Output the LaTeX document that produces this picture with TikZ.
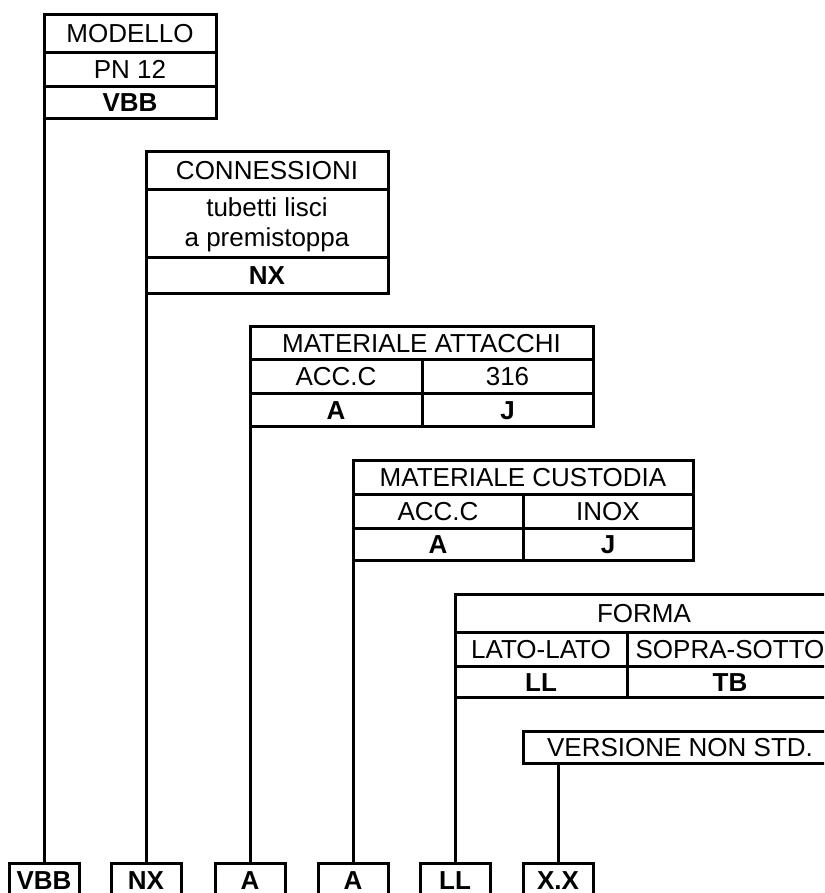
\documentclass[tikz,border=0pt]{standalone}
\usepackage{fontspec}
\setmainfont{Liberation Sans}
\begin{document}
\begin{tikzpicture}[x=1pt,y=-1pt,
  frame/.style={line width=3pt},
  wire/.style={line width=3pt},
  txt/.style={anchor=base, inner sep=0pt, font=\fontsize{26}{30}\selectfont},
  btxt/.style={anchor=base, inner sep=0pt, font=\fontsize{26}{30}\selectfont\bfseries},
  botbox/.style={draw, line width=3pt, anchor=north, minimum width=70pt,
    inner xsep=0pt, inner ysep=7pt, text height=18.6pt, text depth=12pt,
    font=\fontsize{26}{30}\selectfont\bfseries}]
\useasboundingbox (0,0) rectangle (824,893);
\clip (0,0) rectangle (824,893);

% MODELLO
\draw[frame] (44,15) rectangle (216,119);
\draw[frame] (44,53) -- (216,53) (44,87) -- (216,87);
\node[txt] (t1a) at (130,43) {MODELLO};
\node[txt] (t1b) at (130,79) {PN 12};
\node[btxt] (t1c) at (130,112) {VBB};
\coordinate (t1o) at (44,119);

% CONNESSIONI
\draw[frame] (146,152) rectangle (388,293);
\draw[frame] (146,190) -- (388,190) (146,257) -- (388,257);
\node[txt] (t2a) at (267,180) {CONNESSIONI};
\node[txt] (t2b) at (267,217) {tubetti lisci};
\node[txt] (t2c) at (267,247) {a premistoppa};
\node[btxt] (t2d) at (267,284) {NX};
\coordinate (t2o) at (146,293);

% MATERIALE ATTACCHI
\draw[frame] (250,326) rectangle (593,426);
\draw[frame] (250,359) -- (593,359) (250,393) -- (593,393) (422,359) -- (422,426);
\node[txt] (t3a) at (421.5,352) {MATERIALE ATTACCHI};
\node[txt] (t3b) at (336,385) {ACC.C};
\node[txt] (t3c) at (507.5,385) {316};
\node[btxt] (t3d) at (336,419) {A};
\node[btxt] (t3e) at (507.5,419) {J};
\coordinate (t3o) at (250,426);

% MATERIALE CUSTODIA
\draw[frame] (353,460) rectangle (693,560);
\draw[frame] (353,494) -- (693,494) (353,528) -- (693,528) (523,494) -- (523,560);
\node[txt] (t4a) at (523,486) {MATERIALE CUSTODIA};
\node[txt] (t4b) at (438,520) {ACC.C};
\node[txt] (t4c) at (608,520) {INOX};
\node[btxt] (t4d) at (438,553) {A};
\node[btxt] (t4e) at (608,553) {J};
\coordinate (t4o) at (353,560);

% FORMA
\draw[frame] (455,594) rectangle (833,697);
\draw[frame] (455,632) -- (833,632) (455,666) -- (833,666) (627,632) -- (627,697);
\node[txt] (t5a) at (644,622) {FORMA};
\node[txt] (t5b) at (541,658) {LATO-LATO};
\node[txt] (t5c) at (730,658) {SOPRA-SOTTO};
\node[btxt] (t5d) at (541,691) {LL};
\node[btxt] (t5e) at (730,691) {TB};
\coordinate (t5o) at (455,697);

% VERSIONE NON STD.
\draw[frame] (523,731) rectangle (837,763);
\node[txt] (t6a) at (680,756) {VERSIONE NON STD.};
\coordinate (t6o) at (558,763);

% bottom code boxes
\node[botbox] (b1) at (44,862) {VBB};
\node[botbox] (b2) at (146,862) {NX};
\node[botbox] (b3) at (250,862) {A};
\node[botbox] (b4) at (353,862) {A};
\node[botbox] (b5) at (455,862) {LL};
\node[botbox] (b6) at (558,862) {X.X};

% connectors
\draw[wire] (t1o) -- (b1.north);
\draw[wire] (t2o) -- (b2.north);
\draw[wire] (t3o) -- (b3.north);
\draw[wire] (t4o) -- (b4.north);
\draw[wire] (t5o) -- (b5.north);
\draw[wire] (t6o) -- (b6.north);
\end{tikzpicture}
\end{document}
